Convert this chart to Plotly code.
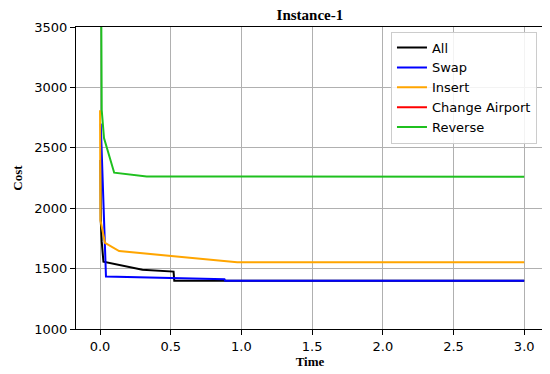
import plotly.graph_objects as go

all_t = [0.003, 0.005, 0.012, 0.024, 0.30, 0.52, 0.525, 3.0]
all_c = [2400, 1900, 1723, 1557, 1490, 1475, 1400, 1400]

swap_t = [0.005, 0.014, 0.042, 0.88, 0.885, 3.0]
swap_c = [2700, 2380, 1435, 1412, 1400, 1400]

insert_t = [0.0, 0.003, 0.035, 0.135, 0.97, 3.0]
insert_c = [2810, 1900, 1714, 1645, 1553, 1553]

airport_t = [0.0, 0.003]
airport_c = [5200, 3700]

reverse_t = [0.005, 0.012, 0.028, 0.10, 0.33, 3.0]
reverse_c = [4500, 2810, 2580, 2294, 2262, 2260]

x_ticks = [0.0, 0.5, 1.0, 1.5, 2.0, 2.5, 3.0]
y_ticks = [1000, 1500, 2000, 2500, 3000, 3500]

series = [
    ("All", all_t, all_c, "black"),
    ("Swap", swap_t, swap_c, "blue"),
    ("Insert", insert_t, insert_c, "orange"),
    ("Change Airport", airport_t, airport_c, "red"),
    ("Reverse", reverse_t, reverse_c, "#1fc01f"),
]

fig = go.Figure()
for name, t, c, col in series:
    fig.add_trace(go.Scatter(x=t, y=c, mode="lines", name=name,
                             line=dict(color=col, width=2)))

axis_common = dict(
    showline=True, linecolor="black", linewidth=1, mirror=True,
    ticks="outside", ticklen=5, tickcolor="black", tickwidth=1,
    showgrid=True, gridcolor="#b0b0b0", gridwidth=1, zeroline=False,
    tickfont=dict(family="DejaVu Sans", size=13, color="black"),
)

fig.update_layout(
    width=542, height=366,
    margin=dict(l=68, r=6, t=19, b=45),
    paper_bgcolor="white", plot_bgcolor="white",
    title=dict(text="<b>Instance-1</b>", x=0.557, xanchor="center", y=0.981, yanchor="middle",
               font=dict(family="Liberation Serif", size=15, color="black")),
    xaxis=dict(range=[-0.17, 3.14], tickvals=x_ticks, ticktext=[f"{v:.1f}" for v in x_ticks],
               title=dict(text="<b>Time</b>", standoff=4,
                          font=dict(family="Liberation Serif", size=13, color="black")),
               **axis_common),
    yaxis=dict(range=[1000, 3500], tickvals=y_ticks,
               title=dict(text="<b>Cost</b>", standoff=8,
                          font=dict(family="Liberation Serif", size=13, color="black")),
               **axis_common),
    legend=dict(x=0.985, xanchor="right", y=0.985, yanchor="top",
                bgcolor="rgba(255,255,255,0.85)", bordercolor="#cccccc", borderwidth=1,
                font=dict(family="DejaVu Sans", size=13, color="black")),
    showlegend=True,
)

fig.write_html("out.html")
